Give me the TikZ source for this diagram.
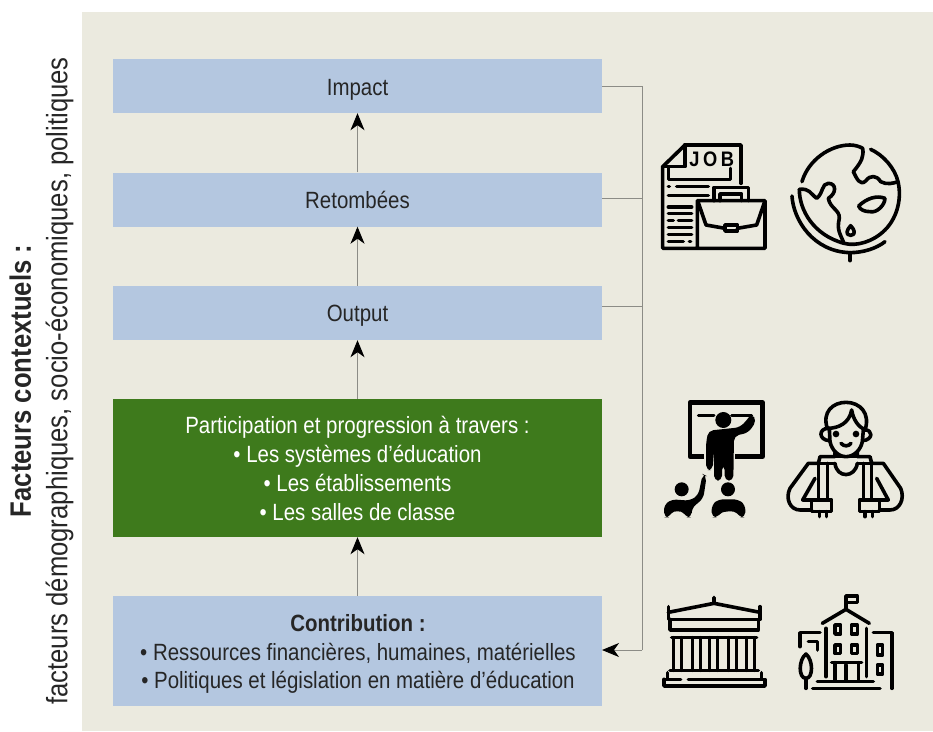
\documentclass[tikz,border=0pt]{standalone}
\usepackage{fontspec}
\setmainfont[FakeStretch=0.87]{Liberation Sans}
\usetikzlibrary{arrows.meta}
\definecolor{bgbeige}{HTML}{EBEADF}
\definecolor{boxblue}{HTML}{B4C7E0}
\definecolor{boxgreen}{HTML}{3E7A1C}
\definecolor{linegray}{HTML}{8C8C86}
\tikzset{
  bluebox/.style={fill=boxblue,draw=none,inner sep=0pt,align=center,font=\fontsize{23.5}{24}\selectfont,text=black!85},
  greenbox/.style={fill=boxgreen,draw=none,inner sep=0pt,align=center,font=\fontsize{23.5}{29}\selectfont,text=white},
  flow/.style={draw=linegray,line width=1pt,-{Stealth[black,length=17pt,width=14pt,inset=5pt]}},
  link/.style={draw=linegray,line width=1pt},
  ico/.style={draw=black,line width=3.6pt,line cap=round,line join=round},
  icoS/.style={draw=black,line width=3pt,line cap=round,line join=round},
}
\begin{document}
\begin{tikzpicture}[x=1pt,y=-1pt]
\useasboundingbox (0,0) rectangle (933,731);
\fill[bgbeige] (82,12) rectangle (933,731);
\node[bluebox,minimum width=489pt,minimum height=54pt,text depth=0pt] (impact) at (357.5,86) {\raisebox{-2pt}{Impact}};
\node[bluebox,minimum width=489pt,minimum height=54pt] (ret) at (357.5,199.5) {Retombées};
\node[bluebox,minimum width=489pt,minimum height=54pt] (out) at (357.5,313) {\smash{\raisebox{-8pt}{Output}}};
\node[greenbox,minimum width=489pt,minimum height=138pt] (part) at (357.5,468) {Participation et progression à travers :\\• Les systèmes d’éducation\\• Les établissements\\• Les salles de classe};
\node[bluebox,minimum width=489pt,minimum height=110pt] (contrib) at (357.5,651) {};
\node[inner sep=0pt,align=center,font=\fontsize{23.5}{28.5}\selectfont,text=black!85] (contribtxt) at (358,654) {\textbf{Contribution :}\\• Ressources financières, humaines, matérielles\\• Politiques et législation en matière d’éducation};
\draw[flow] (contrib.north) -- (part.south);
\draw[flow] (part.north) -- (out.south);
\draw[flow] (out.north) -- (ret.south);
\draw[flow] (ret.north) -- (impact.south);
\coordinate (busT) at (642,86);
\coordinate (busR) at (642,198);
\coordinate (busO) at (642,306);
\coordinate (busB) at (642,650);
\coordinate (cEnd) at (602,650);
\draw[link] (impact.east) -- (busT) -- (busB);
\draw[link] (602,198) -- (busR);
\draw[link] (602,306) -- (busO);
\draw[link,-{Stealth[black,length=17pt,width=14pt,inset=5pt]}] (busB) -- (cEnd);
\node[rotate=90,align=center,font=\fontsize{29.5}{36.5}\selectfont,text=black!85] (side) at (41.5,381) {\textbf{Facteurs contextuels :}\\facteurs démographiques, socio-économiques, politiques};
% job + briefcase
\begin{scope}[shift={(640,130)},x=.3333pt,y=-.3333pt]
\draw[ico] (135,45) -- (303,45) -- (303,160);
\draw[ico] (135,45) -- (68,110) -- (68,355) -- (375,355) -- (375,212) -- (172,212) -- (172,355);
\draw[ico] (68,110) -- (135,110) -- (135,45);
\draw[ico] (85,115) -- (85,148) -- (272,148) -- (272,115);
\node[font=\bfseries\fontsize{21}{21}\selectfont,text=black] (jobtxt) at (215,88) {J\,O\,B};
\draw[ico] (85,170) -- (88,170) (110,170) -- (205,170);
\draw[ico] (85,197) -- (205,197) (85,231) -- (155,231) (85,251) -- (155,251) (85,272) -- (100,272) (115,272) -- (155,272) (85,293) -- (155,293) (85,313) -- (155,313) (85,334) -- (130,334) (148,334) -- (152,334);
\draw[ico] (222,212) -- (222,172) -- (325,172) -- (325,212) (240,212) -- (240,192) -- (305,192) -- (305,212);
\draw[ico] (175,218) -- (198,285) -- (255,295) (292,295) -- (350,285) -- (373,218);
\draw[ico] (255,285) rectangle (292,303);
% globe
\draw[ico] (486,155) .. controls (505,90) and (570,45) .. (630,45) .. controls (645,45) and (660,50) .. (668,55) .. controls (672,80) and (665,95) .. (640,125) .. controls (650,145) and (660,170) .. (678,152) .. controls (690,135) and (710,135) .. (722,155) .. controls (740,165) and (760,160) .. (774,155);
\draw[ico] (692,58) .. controls (730,75) and (765,115) .. (774,155) .. controls (785,200) and (775,260) .. (735,300) .. controls (700,335) and (650,350) .. (612,340) .. controls (600,310) and (590,300) .. (598,265) .. controls (600,240) and (570,235) .. (565,205) .. controls (590,190) and (590,160) .. (565,160) .. controls (545,160) and (550,190) .. (530,205) .. controls (510,190) and (510,175) .. (478,178);
\draw[ico] (478,178) .. controls (478,240) and (520,315) .. (612,340);
\draw[ico] (656,228) .. controls (680,205) and (710,195) .. (735,205) .. controls (735,225) and (710,250) .. (690,245) .. controls (675,245) and (660,240) .. (656,228) -- cycle;
\draw[ico] (632,287) .. controls (645,300) and (648,315) .. (632,316) .. controls (615,315) and (620,300) .. (632,287) -- cycle;
\draw[ico] (456,198) .. controls (460,270) and (520,365) .. (630,368) .. controls (670,368) and (710,355) .. (735,335);
\draw[ico] (630,368) -- (630,392);
\end{scope}
% teacher
\begin{scope}[shift={(640,390)},x=.3333pt,y=-.3333pt]
\draw[draw=black,line width=4.5pt,line join=round] (192,200) -- (150,200) -- (150,38) -- (368,38) -- (368,200) -- (285,200);
\draw[icoS] (175,76) -- (222,76) (275,76) -- (335,76);
\fill (250,90) circle (24);
\fill[rounded corners=5pt] (198,160) -- (205,122) -- (300,112) -- (325,85) -- (335,70) -- (350,92) -- (325,128) -- (282,138) -- (280,272) -- (254,272) -- (254,225) -- (246,225) -- (246,272) -- (222,272) -- (222,180) -- (218,240) -- (198,240) -- cycle;
\fill (125,298) circle (21);
\fill[rounded corners=5pt] (72,382) -- (72,345) -- (95,328) -- (150,332) -- (175,315) -- (188,252) -- (200,258) -- (190,325) -- (155,355) -- (155,382) -- (138,382) .. controls (125,362) and (100,362) .. (88,382) -- cycle;
\fill (264,298) circle (21);
\fill[rounded corners=5pt] (215,382) -- (215,345) -- (235,328) -- (295,328) -- (316,345) -- (316,382) -- (298,382) .. controls (285,362) and (250,362) .. (232,382) -- cycle;
\end{scope}
% student
\begin{scope}[shift={(770,395)},x=.3333pt,y=-.3333pt]
\draw[ico] (172,100) .. controls (155,50) and (190,22) .. (228,22) .. controls (270,22) and (302,55) .. (285,105);
\draw[ico] (172,100) .. controls (205,100) and (238,85) .. (245,45) .. controls (250,75) and (265,95) .. (285,105);
\draw[ico] (178,100) -- (180,140) .. controls (185,165) and (205,185) .. (228,185) .. controls (252,185) and (272,165) .. (277,140) -- (280,105);
\draw[ico] (175,100) .. controls (145,100) and (145,135) .. (178,137);
\draw[ico] (282,105) .. controls (310,102) and (310,135) .. (278,137);
\fill (198,117) circle (10); \fill (258,117) circle (10);
\draw[ico] (213,145) .. controls (222,155) and (235,155) .. (243,145);
\draw[ico] (195,172) -- (195,185) -- (150,185) -- (145,205) -- (115,205) -- (60,280) .. controls (45,310) and (60,345) .. (90,345) -- (125,345);
\draw[ico] (262,172) -- (262,185) -- (300,185) -- (305,205) -- (340,205) -- (392,280) .. controls (405,310) and (390,345) .. (360,345) -- (328,345);
\draw[ico] (195,185) -- (262,185);
\draw[ico] (145,205) -- (195,205) (262,205) -- (305,205);
\draw[ico] (195,205) .. controls (200,250) and (255,250) .. (262,205);
\draw[ico] (145,205) -- (145,315) (172,205) -- (172,315);
\draw[ico] (280,205) -- (280,315) (305,205) -- (305,315);
\draw[ico] (135,250) -- (98,315) -- (125,315);
\draw[ico] (320,250) -- (355,315) -- (328,315);
\draw[ico] (125,315) rectangle (185,350);
\draw[ico] (268,315) rectangle (328,350);
\draw[ico] (148,350) -- (148,365) (170,350) -- (170,365) (285,350) -- (285,365) (308,350) -- (308,365);
\end{scope}
% bank + school
\begin{scope}[shift={(590,580)},x=.3333pt,y=-.3333pt]
\draw[ico] (235,80) -- (235,118) -- (510,118) -- (510,80);
\draw[ico] (235,97) -- (372,70) -- (510,97) (372,52) -- (372,70);
\draw[ico] (240,118) -- (240,150) -- (505,150) -- (505,118);
\draw[ico] (245,172) -- (500,172);
\foreach \cx in {262,318,372,428,482} {
  \draw[icoS] (\cx-12,172) -- (\cx-12,272) (\cx+12,172) -- (\cx+12,272);
}
\draw[ico] (240,272) -- (505,272);
\draw[ico] (232,278) -- (232,295) (515,278) -- (515,295);
\draw[ico] (222,298) -- (272,298) (295,298) -- (525,298) -- (525,318) -- (222,318) -- (222,298);
% school
\draw[ico] (768,88) -- (768,48) -- (802,48) -- (802,68) -- (768,68);
\draw[ico] (697,130) -- (768,88) -- (838,130);
\draw[ico] (708,145) -- (708,290) (830,145) -- (830,290);
\draw[ico] (735,135) rectangle (752,162) (785,135) rectangle (802,162);
\draw[ico] (735,195) rectangle (752,220) (785,195) rectangle (802,220);
\draw[ico] (725,248) -- (815,248);
\draw[ico] (735,248) -- (735,300) (805,248) -- (805,300) (768,255) -- (768,300);
\draw[ico] (682,305) -- (850,305);
\draw[ico] (668,325) -- (870,325);
\draw[ico] (630,200) -- (630,158) -- (690,158);
\draw[ico] (655,185) -- (682,185) -- (682,210);
\draw[ico] (850,158) -- (906,158) -- (906,325);
\draw[ico] (862,195) rectangle (878,225) (862,255) rectangle (878,282);
\draw[ico] (648,222) .. controls (625,240) and (625,295) .. (648,295) .. controls (670,295) and (670,240) .. (648,222) -- cycle;
\draw[ico] (648,295) -- (648,325);
\end{scope}
\end{tikzpicture}
\end{document}
